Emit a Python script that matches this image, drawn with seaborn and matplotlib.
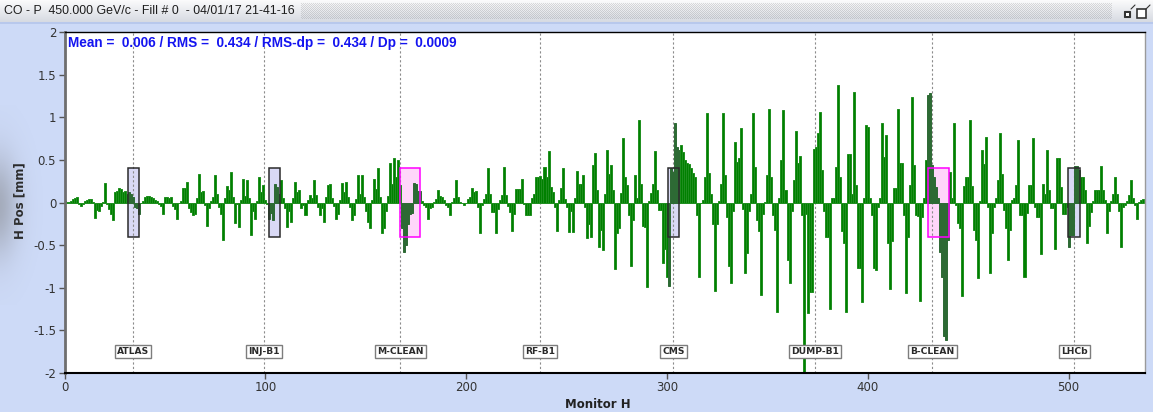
import numpy as np
import pandas as pd
import matplotlib
matplotlib.use("Agg")
import matplotlib.pyplot as plt
from matplotlib.patches import Rectangle
from matplotlib.ticker import FuncFormatter
import seaborn as sns

# Horizontal closed-orbit reading per beam position monitor [mm], split by stretch of ring
ip1_to_ip8 = [0.02, 0.01, 0.01, 0.02, 0.04, 0.05, 0.07, -0.02, -0.04, -0.02,
              0.02, 0.03, 0.04, 0.04, 0.01, -0.18, -0.09, -0.10, -0.04, 0.01,
              0.23, -0.02, -0.08, -0.14, -0.21, 0.12, 0.14, 0.17, 0.16, 0.12,
              0.13, 0.10, 0.12, 0.10, 0.07, -0.05, -0.06, -0.14, -0.01, 0.02,
              0.06, 0.08, 0.08, 0.07, 0.05, 0.03, 0.02, -0.02, -0.04, -0.14,
              0.06, 0.07, 0.05, 0.07, -0.04, -0.08, -0.19, -0.01, 0.02, 0.17,
              0.17, 0.24, -0.06, -0.11, -0.15, -0.14, 0.05, 0.34, 0.12, 0.13,
              -0.03, -0.28, -0.06, 0.02, 0.06, 0.32, 0.10, -0.05, -0.13, -0.44,
              0.05, 0.19, 0.15, 0.36, 0.06, -0.24, -0.02, -0.29]
ip2_arc = [0.03, 0.28, 0.08, 0.26, 0.05, -0.38, -0.10, -0.19, 0.02, 0.30,
           0.12, 0.20, 0.03, -0.02, -0.19, -0.12, -0.20, 0.22, 0.18, 0.10,
           0.26, 0.05, -0.06, -0.29, -0.10, -0.23, 0.05, 0.24, 0.12, 0.15,
           -0.07, -0.03, -0.15, 0.03, 0.09, 0.05, 0.26, 0.09, -0.05,
           -0.15, -0.07, -0.23, 0.06, 0.20, 0.22, 0.05, -0.04, -0.19, -0.14,
           0.03, 0.23, 0.12, 0.24, 0.07, -0.05, -0.21, -0.15, 0.04, 0.32,
           0.10, 0.32, 0.07, -0.10, -0.23, -0.30, 0.03, 0.28, 0.16, 0.40,
           0.06, -0.36, -0.30, -0.10, 0.08, 0.46, 0.22, 0.52]
ip3_arc = [0.30, 0.50, 0.20, -0.30, -0.58, -0.50, -0.25, -0.13, -0.12, 0.23,
           0.22, 0.13, 0.13, 0.02, -0.03, -0.05, -0.19, -0.06, -0.05, 0.01,
           0.04, 0.15, 0.08, 0.06, 0.03, -0.03, -0.05, -0.15, 0.01, 0.05,
           0.26, 0.07, 0.01, -0.01, -0.03, -0.01, 0.04, 0.06, 0.17, 0.12,
           0.13, -0.05, -0.36, -0.03, 0.04, 0.10, 0.41, 0.10, -0.11, -0.11,
           -0.36, -0.08, 0.03, 0.09, 0.42, 0.09, -0.04, -0.11, -0.33, -0.13,
           0.16, 0.16, 0.16, 0.28, -0.02, -0.15, -0.15, -0.15, 0.05, 0.10,
           0.30, 0.30, 0.31, 0.28, 0.42, 0.30, 0.60, 0.18, 0.12, -0.05,
           -0.34, 0.03, 0.17, 0.40, 0.04, -0.05, -0.35, -0.10, -0.35, 0.05,
           0.37, 0.22]
ip4_arc = [0.22, 0.32, -0.05, -0.42, -0.25, -0.40, 0.44, 0.58, 0.15,
           -0.52, -0.32, -0.56, 0.10, 0.61, 0.34, 0.44, 0.15, -0.78, -0.36,
           -0.30, 0.11, 0.76, 0.30, 0.21, -0.15, -0.75, -0.20, 0.32, 0.05,
           0.97, 0.22, -0.28, -0.29, -0.99, 0.02, 0.11, 0.22, 0.60, 0.15,
           -0.09, -0.09, -0.71, -0.55, -0.87, -0.98, 0.40, 0.36, 0.93, 0.65,
           0.62, 0.67, 0.59, 0.50, 0.46, 0.45, 0.40, 0.35, 0.30, -0.15,
           -0.87, -0.01, 0.03, 0.30, 1.05, 0.35, 0.10, -0.25, -1.04, -0.25,
           0.02, 0.22, 1.05, 0.32, -0.17, -0.75, -0.95, -0.10, 0.71, 0.48,
           0.52, 0.87, -0.08, -0.83, -0.59, -0.10, 0.10, 1.05]
ip5_arc = [0.42, -0.20, -0.34, -1.08, -0.13, 0.01, 0.32, 1.10, 0.30, -0.15,
           -0.32, -1.28, 0.05, 0.50, 1.08, 0.15, -0.67, -0.94, -0.10, 0.26,
           0.84, 0.46, 0.54, -0.15, -2.30, -0.13, -1.30, -1.05, -1.05, 0.63,
           0.65, 0.81, 1.06, 0.38, -0.10, -0.40, -0.40, -1.25, 0.05, 0.05,
           0.42, 1.38, 0.30, -0.34, -0.47, -1.28, 0.57, 0.57, 0.10, 1.30,
           0.20, -0.77, -0.77, -1.17, 0.05, 0.91, 0.89, 0.05, -0.15, -0.77,
           -0.79, -0.05, 0.05, 0.93, 0.53, 0.79, -0.48, -1.02, -0.45, 0.17,
           0.17, 1.10, 0.46, 0.46, -0.15, -1.06, -0.40, 0.20]
ip7_arc = [1.24, 0.44, -0.15, -0.16, -1.16, -0.17, 0.05, 0.50, 1.26, 1.28,
           0.44, 0.30, 0.18, 0.05, -0.58, -0.87, -1.57, -1.61, -0.44, 0.36,
           0.05, 0.93, -0.03, -0.24, -0.30, -1.10, 0.19, 0.30, 0.30, 0.97,
           0.19, -0.32, -0.44, -0.88, 0.02, 0.62, 0.45, 0.77, -0.05, -0.83,
           -0.36, -0.05, 0.05, 0.26, 0.81, 0.34, -0.09, -0.30, -0.68, -0.32,
           0.03, 0.05, 0.20, 0.73, -0.15, -0.15, -0.87, -0.12, 0.20, 0.20,
           0.76, -0.05, -0.17, -0.17, -0.60, 0.22, 0.10, 0.62, 0.15, -0.07,
           -0.07, -0.55, 0.52, 0.52, 0.18, -0.13, -0.13, -0.05, -0.52, -0.38,
           -0.38, 0.43, 0.43, 0.38, 0.30, 0.30, 0.15, -0.48, -0.28, -0.11,
           0.02, 0.15, 0.15, 0.15, 0.43, 0.15, 0.03, -0.36, -0.10, 0.02,
           0.10, 0.30, 0.10, -0.10, -0.52, -0.05, -0.03, 0.02, 0.09, 0.26,
           0.05, -0.03, -0.19, 0.01, 0.03, 0.04]

# Insertion markers along the ring
ip_labels = ["ATLAS", "INJ-B1", "M-CLEAN", "RF-B1", "CMS", "DUMP-B1", "B-CLEAN", "LHCb"]
ip_monitor = [34.1, 99.4, 167.1, 236.8, 303.1, 373.8, 432.0, 502.7]

# Highlighted windows: experiments / injection (blue) and cleaning insertions (pink)
exp_start = [31.6, 101.8, 300.5, 499.9]
exp_end = [37.1, 107.3, 306.0, 505.7]
clean_start = [167.1, 430.0]
clean_end = [177.1, 440.5]
window_half_height = 0.4

x_ticks = [0, 100, 200, 300, 400, 500]
y_ticks = [-2, -1.5, -1, -0.5, 0, 0.5, 1, 1.5, 2]

title_text = "CO - P  450.000 GeV/c - Fill # 0  - 04/01/17 21-41-16"
stats_text = "Mean =  0.006 / RMS =  0.434 / RMS-dp =  0.434 / Dp =  0.0009"

h_pos = np.array(ip1_to_ip8 + ip2_arc + ip3_arc + ip4_arc + ip5_arc + ip7_arc)
monitor = np.arange(len(h_pos))
df = pd.DataFrame({"Monitor H": monitor, "H Pos [mm]": h_pos})

GREEN = "#008000"
GREEN_EDGE = "#1f8f1f"
GREEN_DARK = "#2d6a34"
BG = "#cddaf7"
LAVENDER = "#d9d9f5"
PINK = "#ffd6fa"
MAGENTA = "#ff00ff"

sns.set_theme(style="white")
plt.rcParams["font.family"] = ["DejaVu Sans"]
plt.rcParams["axes.unicode_minus"] = False

W, H = 1153, 412
fig = plt.figure(figsize=(W / 100, H / 100), dpi=100, facecolor=BG)

# window title bar with gradient and stipple
bar_rows = 24
grad = np.linspace(0, 1, bar_rows)[:, None]
top = np.array([250, 250, 251]) / 255
bot = np.array([212, 216, 224]) / 255
title_img = np.ones((bar_rows, W, 3)) * (top + (bot - top) * grad[..., None])
yy, xx = np.mgrid[0:bar_rows, 0:W]
stip = ((xx + yy) % 2 == 0) & (xx > 300) & (xx < 1112) & (yy > 2) & (yy < 19)
title_img[stip] = title_img[stip] * 0.88
title_img[-2:, :, :] = np.array([184, 200, 236]) / 255
fig.figimage(title_img, xo=0, yo=H - bar_rows, origin="upper", zorder=0)

# soft shadow on the left border
sh_h, sh_w = 200, 50
sy, sx = np.mgrid[0:sh_h, 0:sh_w]
alpha = 0.45 * np.exp(-((sx + 3) / 21.0) ** 2 - ((sy - 100) / 50.0) ** 2)
shadow = np.zeros((sh_h, sh_w, 4))
shadow[..., :3] = 0.45
shadow[..., 3] = alpha
fig.figimage(shadow, xo=0, yo=H - 305, origin="upper", zorder=0)

fig.text(4 / W, 1 - 11.5 / H, title_text, ha="left", va="center", fontsize=8.9,
         family=["Liberation Sans", "DejaVu Sans"], color="#1e1e1e")

# small window icons in the title bar
fig.patches.append(Rectangle((1124 / W, 1 - 17 / H), 6 / W, 6 / H, transform=fig.transFigure,
                             fc="#333333", ec="#333333", lw=0.8, figure=fig))
fig.patches.append(Rectangle((1125.5 / W, 1 - 15.5 / H), 3 / W, 3 / H, transform=fig.transFigure,
                             fc="white", ec="none", figure=fig))
fig.patches.append(Rectangle((1137 / W, 1 - 18 / H), 9 / W, 9 / H, transform=fig.transFigure,
                             fc="white", ec="#333333", lw=1.2, figure=fig))
fig.lines.append(plt.Line2D([1131 / W, 1135 / W], [1 - 9 / H, 1 - 5 / H], transform=fig.transFigure,
                            color="#333333", lw=0.8, figure=fig))
fig.lines.append(plt.Line2D([1146 / W, 1150 / W], [1 - 9 / H, 1 - 5 / H], transform=fig.transFigure,
                            color="#333333", lw=0.8, figure=fig))

ax = fig.add_axes([64.5 / W, 1 - 373 / H, (1145 - 64.5) / W, (373 - 32) / H])
ax.set_facecolor("white")

sns.barplot(data=df, x="Monitor H", y="H Pos [mm]", native_scale=True, color=GREEN,
            saturation=1, width=1.0, linewidth=0.7, edgecolor=GREEN_EDGE, errorbar=None,
            ax=ax, zorder=2)

# bars that sit inside a highlighted window are drawn darker
windows = list(zip(exp_start, exp_end)) + list(zip(clean_start, clean_end))
for p in ax.patches:
    cx = p.get_x() + p.get_width() / 2
    if any(s <= cx <= e for s, e in windows):
        p.set_facecolor(GREEN_DARK)
        p.set_edgecolor(GREEN_DARK)

for s, e in zip(exp_start, exp_end):
    ax.add_patch(Rectangle((s, -window_half_height), e - s, 2 * window_half_height,
                           fc=LAVENDER, ec="none", zorder=1))
    ax.add_patch(Rectangle((s, -window_half_height), e - s, 2 * window_half_height,
                           fill=False, ec="#2b2b2b", lw=1.1, zorder=3))
for s, e in zip(clean_start, clean_end):
    ax.add_patch(Rectangle((s, -window_half_height), e - s, 2 * window_half_height,
                           fc=PINK, ec="none", zorder=1))
    ax.add_patch(Rectangle((s, -window_half_height), e - s, 2 * window_half_height,
                           fill=False, ec=MAGENTA, lw=1.1, zorder=3))

for xm, lab in zip(ip_monitor, ip_labels):
    ax.axvline(xm, color="#8c8c8c", lw=0.8, ls=(0, (2, 2)), zorder=1.5)
    ax.text(xm, -1.75, lab, ha="center", va="center", fontsize=6.6, fontweight="bold",
            color="#2a2a2a", zorder=5,
            bbox=dict(boxstyle="square,pad=0.25", fc="white", ec="#7d7d7d", lw=1.0))

ax.text(0.0035, 0.968, stats_text, transform=ax.transAxes, ha="left", va="center",
        color="#1414f0", fontweight="bold", fontsize=9.8,
        family=["Liberation Sans Narrow", "Liberation Sans", "DejaVu Sans"], zorder=6)

ax.set_xlim(0, 538)
ax.set_ylim(-2, 2)
ax.set_xticks(x_ticks)
ax.set_yticks(y_ticks)
ax.yaxis.set_major_formatter(FuncFormatter(lambda v, pos: f"{v:g}"))
ax.tick_params(axis="both", direction="out", length=4, width=1, color="#555555",
               labelsize=8.5, labelcolor="#333333", pad=2)
ax.tick_params(left=True, bottom=True)

for side, col, lw in [("left", "#6e6e6e", 2.0), ("bottom", "#000000", 1.5),
                      ("top", "#000000", 1.0), ("right", "#9a9a9a", 1.0)]:
    ax.spines[side].set_visible(True)
    ax.spines[side].set_color(col)
    ax.spines[side].set_linewidth(lw)

ax.set_xlabel("Monitor H", fontsize=8.5, fontweight="bold", color="#222222")
ax.xaxis.set_label_coords(0.494, -0.074)
ax.set_ylabel("H Pos [mm]", fontsize=8.5, fontweight="bold", color="#222222")
ax.yaxis.set_label_coords(-0.035, 0.505)

fig.savefig("out.png", dpi=100, facecolor=BG)
